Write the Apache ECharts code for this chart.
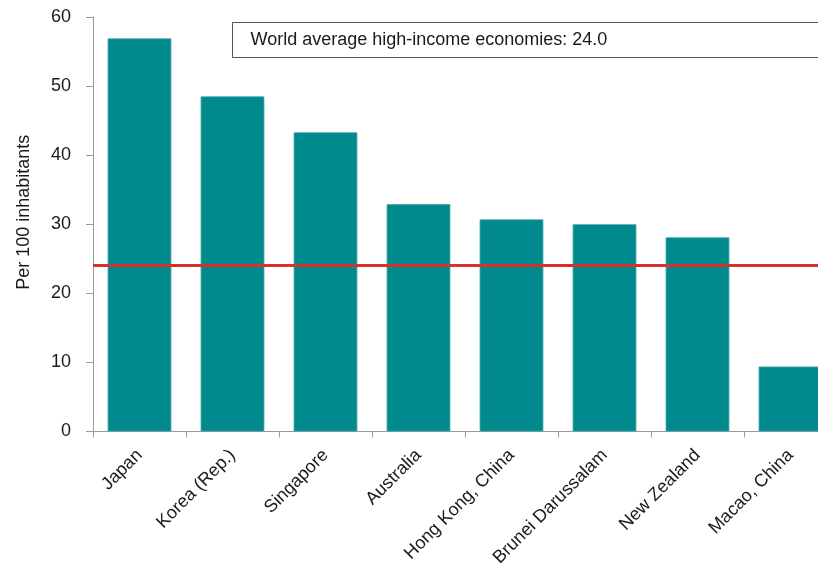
<!DOCTYPE html>
<html>
<head>
<meta charset="utf-8">
<script src="https://cdn.jsdelivr.net/npm/echarts@6/dist/echarts.min.js"></script>
<style>
  html, body { margin: 0; padding: 0; background: #ffffff; }
  #chart { width: 818px; height: 570px; }
</style>
</head>
<body>
<div id="chart"></div>
<script>
// Fixed broadband subscriptions per 100 inhabitants, high-income economies
const economies = ['Japan', 'Korea (Rep.)', 'Singapore', 'Australia', 'Hong Kong, China', 'Brunei Darussalam', 'New Zealand', 'Macao, China'];
const subscriptions = [56.9, 48.5, 43.3, 32.9, 30.7, 30.0, 28.1, 9.4];
const worldAverage = 24.0;
const yTicks = [0, 10, 20, 30, 40, 50, 60];

const FONT = 'Liberation Sans, Arial, sans-serif';
const chart = echarts.init(document.getElementById('chart'), null, { renderer: 'canvas' });

chart.setOption({
  animation: false,
  backgroundColor: '#ffffff',
  // plot area runs past the right edge of the canvas
  grid: { left: 93, top: 17, width: 744, height: 414.5, containLabel: false, outerBoundsMode: 'none' },
  xAxis: {
    type: 'category',
    data: economies,
    boundaryGap: true,
    axisLine: { show: true, lineStyle: { color: '#9a9a9a', width: 1 } },
    axisTick: { show: true, length: 6, lineStyle: { color: '#9a9a9a' } },
    axisLabel: {
      rotate: 45,
      interval: 0,
      margin: 21,
      color: '#1a1a1a',
      fontFamily: FONT,
      fontSize: 18
    }
  },
  yAxis: {
    type: 'value',
    min: yTicks[0],
    max: yTicks[yTicks.length - 1],
    interval: 10,
    name: 'Per 100 inhabitants',
    nameLocation: 'middle',
    nameGap: 60,
    nameRotate: 90,
    nameTextStyle: { color: '#1a1a1a', fontFamily: FONT, fontSize: 18, padding: [0, 0, 0, 24] },
    axisLine: { show: true, lineStyle: { color: '#9a9a9a', width: 1 } },
    axisTick: { show: true, inside: false, length: 7, lineStyle: { color: '#9a9a9a' } },
    splitLine: { show: false },
    axisLabel: { color: '#1a1a1a', fontFamily: FONT, fontSize: 18, margin: 22 }
  },
  series: [{
    type: 'bar',
    data: subscriptions,
    barCategoryGap: '31.5%',
    itemStyle: { color: '#008a8e', borderColor: '#3aa4a7', borderWidth: 0.8 },
    markLine: {
      silent: true,
      symbol: 'none',
      label: { show: false },
      lineStyle: { color: '#d8312a', width: 3, type: 'solid' },
      data: [{ yAxis: worldAverage }]
    }
  }],
  graphic: [{
    type: 'group',
    left: 232,
    top: 22,
    children: [
      {
        type: 'rect',
        shape: { x: 0, y: 0, width: 620, height: 35 },
        style: { fill: '#ffffff', stroke: '#555555', lineWidth: 1 }
      },
      {
        type: 'text',
        x: 18,
        y: 17.5,
        style: {
          text: 'World average high-income economies: ' + worldAverage.toFixed(1),
          fill: '#1a1a1a',
          font: '18px ' + FONT,
          verticalAlign: 'middle'
        }
      }
    ]
  }]
});
</script>
</body>
</html>
